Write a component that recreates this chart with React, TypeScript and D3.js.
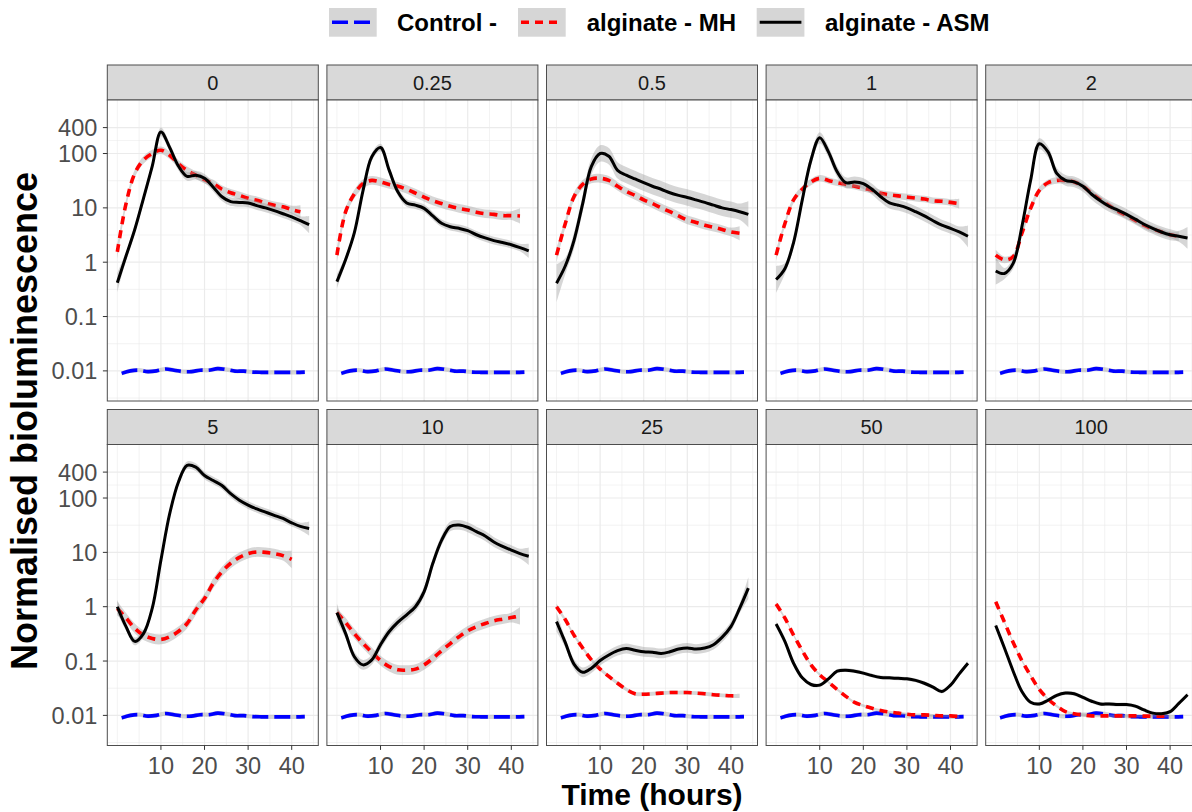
import * as d3 from "d3";

// sampling times (hours)
const hours = [0, 2, 4, 6, 8, 10, 12, 14, 16, 18, 20, 22, 24, 26, 28, 30, 32, 34, 36, 38, 40, 42, 44];
const controlHours = [1, 3, 5, 7, 9, 11, 13, 15, 17, 19, 21, 23, 25, 27, 29, 31, 33, 35, 37, 39, 41, 43];

const concentrations = ["0", "0.25", "0.5", "1", "2", "5", "10", "25", "50", "100"];

// Control - (same in every panel)
const controlValues = [0.009, 0.01, 0.0103, 0.0097, 0.01, 0.0108, 0.0103, 0.0097, 0.0097, 0.0103, 0.0103, 0.011, 0.0106, 0.0099, 0.0099, 0.0095, 0.0094, 0.0094, 0.0094, 0.0094, 0.0094, 0.0095];

// alginate - ASM
const asm0 = [0.42, 1.3, 4.0, 15, 58, 250, 130, 59, 38, 40, 35, 24, 16, 13, 12.6, 12.3, 11, 10, 8.9, 7.8, 6.8, 5.8, 4.9];
const asm025 = [0.44, 1.12, 3.5, 21, 87, 129, 49, 19.5, 12.3, 11.2, 9.8, 7.1, 5.2, 4.5, 4.2, 3.8, 3.2, 2.8, 2.5, 2.3, 2.1, 1.86, 1.62];
const asm05 = [0.41, 0.85, 2.5, 12, 58, 100, 89, 49, 40, 34, 29, 25, 22, 19, 17, 15.5, 14, 12.6, 11.2, 10, 9.3, 8.5, 7.6];
const asm1 = [0.48, 0.76, 2.3, 14, 76, 195, 107, 46, 29, 30, 28, 22, 16, 12.3, 11.2, 10, 8.5, 7.1, 5.8, 4.8, 4.2, 3.6, 3.0];
const asm2 = [0.69, 0.62, 0.95, 4.5, 32, 151, 107, 43, 32, 30, 25, 17.8, 13.5, 10.7, 9.1, 7.6, 6.2, 5.0, 4.2, 3.6, 3.2, 3.0, 2.8];
const asm5 = [1.0, 0.43, 0.23, 0.32, 0.93, 7.2, 51, 195, 400, 370, 260, 210, 170, 120, 91, 74, 63, 55, 48, 42, 35, 30, 27.5];
const asm10 = [0.78, 0.32, 0.12, 0.085, 0.105, 0.2, 0.35, 0.52, 0.71, 1.0, 1.9, 6.3, 16.6, 30, 32, 29, 24, 20, 15.5, 12.9, 11, 9.5, 8.5];
const asm25 = [0.53, 0.22, 0.088, 0.062, 0.074, 0.102, 0.129, 0.155, 0.17, 0.158, 0.148, 0.145, 0.138, 0.148, 0.166, 0.174, 0.166, 0.174, 0.2, 0.275, 0.43, 0.93, 2.2];
const asm50 = [0.48, 0.23, 0.091, 0.049, 0.037, 0.036, 0.047, 0.065, 0.068, 0.065, 0.06, 0.054, 0.05, 0.049, 0.048, 0.047, 0.044, 0.039, 0.033, 0.0275, 0.036, 0.058, 0.091];
const asm100 = [0.45, 0.174, 0.065, 0.0275, 0.0174, 0.0162, 0.019, 0.0234, 0.0257, 0.025, 0.0214, 0.0182, 0.0162, 0.0162, 0.0158, 0.0158, 0.0148, 0.0126, 0.011, 0.0107, 0.0117, 0.0166, 0.024];

// alginate - MH
const mh0 = [1.55, 12, 43, 76, 100, 115, 93, 65, 49, 40, 33, 28, 22, 19, 17, 15, 13.8, 12.3, 11.2, 10.5, 9.3, 8.5, null];
const mh025 = [1.35, 8.5, 18, 28, 32, 30, 27, 25, 22, 18.6, 15.8, 13.5, 12, 10.7, 9.8, 9.1, 8.3, 7.8, 7.6, 7.2, 7.2, 7.1, null];
const mh05 = [1.35, 5.1, 16, 27, 34, 35, 32, 25, 20, 17, 14, 12, 10, 8.5, 7.1, 6.0, 5.4, 4.8, 4.4, 4.0, 3.6, 3.4, null];
const mh1 = [1.35, 5.1, 14, 22, 30, 35, 32, 29, 27, 25, 23, 21, 18.6, 17.4, 16.6, 15.8, 15.1, 14.5, 13.5, 13.2, 12.6, 12, null];
const mh2 = [1.35, 1.1, 1.26, 3.4, 9.8, 21, 29, 32, 32, 30, 25, 18.6, 14, 11, 8.7, 7.2, 5.9, 4.8, 4.1, 3.6, 3.2, 3.0, null];
const mh5 = [0.93, 0.62, 0.4, 0.3, 0.26, 0.25, 0.28, 0.35, 0.49, 0.87, 1.41, 2.7, 4.4, 6.3, 8.1, 9.5, 10.2, 10, 9.5, 8.7, 7.4, null, null];
const mh10 = [0.78, 0.51, 0.32, 0.21, 0.145, 0.102, 0.079, 0.069, 0.068, 0.071, 0.085, 0.112, 0.155, 0.21, 0.28, 0.36, 0.43, 0.49, 0.55, 0.59, 0.63, 0.68, null];
const mh25 = [1.0, 0.58, 0.3, 0.174, 0.105, 0.071, 0.052, 0.039, 0.03, 0.025, 0.0245, 0.025, 0.0257, 0.0263, 0.0263, 0.0263, 0.0257, 0.025, 0.024, 0.0234, 0.0229, 0.0229, null];
const mh50 = [1.12, 0.62, 0.3, 0.155, 0.085, 0.056, 0.041, 0.03, 0.0224, 0.0174, 0.0151, 0.0135, 0.0123, 0.0115, 0.011, 0.0105, 0.0102, 0.0102, 0.01, 0.0098, 0.0098, 0.0095, null];
const mh100 = [1.23, 0.52, 0.22, 0.102, 0.054, 0.03, 0.02, 0.0148, 0.0117, 0.0107, 0.0102, 0.0098, 0.0098, 0.0098, 0.0098, 0.0098, 0.0098, 0.0097, 0.0097, 0.0097, 0.0097, null, null];

// confidence band half-widths (log10 units): [first point, middle, last point]
const asmBand = [[0.18, 0.08, 0.16], [0.13, 0.07, 0.13], [0.35, 0.15, 0.24], [0.25, 0.1, 0.2], [0.25, 0.1, 0.2], [0.13, 0.07, 0.13], [0.16, 0.09, 0.16], [0.18, 0.09, 0.2], [0.04, 0.035, 0.04], [0.04, 0.035, 0.04]];
const mhBand = [[0.13, 0.07, 0.12], [0.13, 0.08, 0.14], [0.13, 0.08, 0.13], [0.1, 0.06, 0.09], [0.1, 0.06, 0.09], [0.13, 0.09, 0.16], [0.08, 0.09, 0.16], [0.06, 0.035, 0.04], [0.035, 0.025, 0.025], [0.035, 0.025, 0.025]];
const controlBand = [0.04, 0.04, 0.04];

const asmSeries = [asm0, asm025, asm05, asm1, asm2, asm5, asm10, asm25, asm50, asm100];
const mhSeries = [mh0, mh025, mh05, mh1, mh2, mh5, mh10, mh25, mh50, mh100];

const yTickValues = [0.01, 0.1, 1, 10, 100, 300];
const yTickLabels = ["0.01", "0.1", "1", "10", "100", "400"];
const xTicks = [10, 20, 30, 40];
const xMinor = [0, 5, 15, 25, 35, 45];

const legendNames = ["Control -", "alginate - MH", "alginate - ASM"];

type Pt = { h: number; v: number; lo: number; hi: number };

function toPoints(hrs: number[], vals: (number | null)[], band: number[]): Pt[] {
  const pts = hrs.map((h, i) => ({ h, v: vals[i] })).filter(d => d.v != null) as { h: number; v: number }[];
  return pts.map((d, i) => {
    const se = i === 0 ? band[0] : i === pts.length - 1 ? band[2] : band[1];
    const f = Math.pow(10, se);
    return { ...d, lo: d.v / f, hi: d.v * f };
  });
}

const styles = [
  { color: "#0000FF", dash: "16 6", width: 3.6 },
  { color: "#FF0000", dash: "8 6", width: 3.6 },
  { color: "#000000", dash: undefined, width: 3 },
];

export default function App() {
  const width = 1192;
  const height = 812;
  const panelW = 211;
  const panelH = 301;
  const stripH = 35;
  const colLeft = (c: number) => 107.3 + c * 219.6;
  const stripTop = [65, 409.5];
  const font = "'Liberation Sans', Arial, Helvetica, sans-serif";

  const x = d3.scaleLinear().domain([-2.3, 46.1]).range([0, panelW]);
  const y = d3.scaleLog().domain([0.00279, 966]).range([panelH, 0]);

  const curve = d3.curveCatmullRom.alpha(0.5);
  const line = d3.line<Pt>().x(d => x(d.h)).y(d => y(d.v)).curve(curve);
  const area = d3.area<Pt>().x(d => x(d.h)).y0(d => y(d.lo)).y1(d => y(d.hi)).curve(curve);

  // minor y grid: halfway (in log space) between major ticks, plus one below
  const logT = yTickValues.map(Math.log10);
  const yMinor = logT.slice(1).map((t, i) => Math.pow(10, (t + logT[i]) / 2));
  yMinor.unshift(Math.pow(10, logT[0] - (logT[1] - logT[0]) / 2));

  const legendKeys = [329, 518, 756.7];
  const legendText = [397, 586.7, 825];

  return (
    <svg width={width} height={height} style={{ position: "absolute", left: 0, top: 0, background: "#fff" }} fontFamily={font}>
      <defs>
        {concentrations.map((c, i) => (
          <clipPath id={`clip${i}`} key={c}>
            <rect x={0} y={0} width={panelW} height={panelH} />
          </clipPath>
        ))}
      </defs>

      {concentrations.map((conc, i) => {
        const row = Math.floor(i / 5);
        const col = i % 5;
        const left = colLeft(col);
        const top = stripTop[row] + stripH;
        const groups = [
          toPoints(controlHours, controlValues, controlBand),
          toPoints(hours, mhSeries[i], mhBand[i]),
          toPoints(hours, asmSeries[i], asmBand[i]),
        ];
        return (
          <g key={conc}>
            {/* strip */}
            <rect x={left} y={stripTop[row]} width={panelW} height={stripH} fill="#D9D9D9" stroke="#4D4D4D" strokeWidth={1} />
            <text x={left + panelW / 2} y={stripTop[row] + stripH / 2 + 7} textAnchor="middle" fontSize={20} fill="#1A1A1A">{conc}</text>

            <g transform={`translate(${left},${top})`}>
              <rect width={panelW} height={panelH} fill="#fff" />
              {yMinor.map(v => (
                <line key={"ym" + v} x1={0} x2={panelW} y1={y(v)} y2={y(v)} stroke="#EBEBEB" strokeWidth={0.6} />
              ))}
              {xMinor.map(t => (
                <line key={"xm" + t} x1={x(t)} x2={x(t)} y1={0} y2={panelH} stroke="#EBEBEB" strokeWidth={0.6} />
              ))}
              {yTickValues.map(v => (
                <line key={"y" + v} x1={0} x2={panelW} y1={y(v)} y2={y(v)} stroke="#EBEBEB" strokeWidth={1.2} />
              ))}
              {xTicks.map(t => (
                <line key={"x" + t} x1={x(t)} x2={x(t)} y1={0} y2={panelH} stroke="#EBEBEB" strokeWidth={1.2} />
              ))}

              <g clipPath={`url(#clip${i})`}>
                {groups.map((pts, k) => (
                  <g key={k}>
                    <path d={area(pts) ?? ""} fill="#999999" fillOpacity={0.4} />
                    <path d={line(pts) ?? ""} fill="none" stroke={styles[k].color} strokeWidth={styles[k].width} strokeDasharray={styles[k].dash} />
                  </g>
                ))}
              </g>

              <rect width={panelW} height={panelH} fill="none" stroke="#4D4D4D" strokeWidth={1} />

              {col === 0 &&
                yTickValues.map((v, j) => (
                  <g key={"yt" + v}>
                    <line x1={-4.4} x2={0} y1={y(v)} y2={y(v)} stroke="#333" strokeWidth={1} />
                    <text x={-10} y={y(v) + 8.5} textAnchor="end" fontSize={23.5} fill="#4D4D4D">{yTickLabels[j]}</text>
                  </g>
                ))}
              {row === 1 &&
                xTicks.map(t => (
                  <g key={"xt" + t}>
                    <line x1={x(t)} x2={x(t)} y1={panelH} y2={panelH + 4.4} stroke="#333" strokeWidth={1} />
                    <text x={x(t)} y={panelH + 28} textAnchor="middle" fontSize={23.5} fill="#4D4D4D">{t}</text>
                  </g>
                ))}
            </g>
          </g>
        );
      })}

      {/* axis titles */}
      <text x={652} y={805} textAnchor="middle" fontSize={30} fontWeight="bold" fill="#000">Time (hours)</text>
      <text transform="translate(37,421) rotate(-90)" textAnchor="middle" fontSize={36} fontWeight="bold" fill="#000">Normalised bioluminescence</text>

      {/* legend */}
      {legendNames.map((name, k) => (
        <g key={name}>
          <rect x={legendKeys[k]} y={8} width={47.7} height={28.7} fill="#999999" fillOpacity={0.4} />
          <line x1={legendKeys[k] + 3} x2={legendKeys[k] + 44.7} y1={22.3} y2={22.3} stroke={styles[k].color} strokeWidth={styles[k].width} strokeDasharray={styles[k].dash} />
          <text x={legendText[k]} y={31} fontSize={24} fontWeight="bold" fill="#000">{name}</text>
        </g>
      ))}
    </svg>
  );
}
